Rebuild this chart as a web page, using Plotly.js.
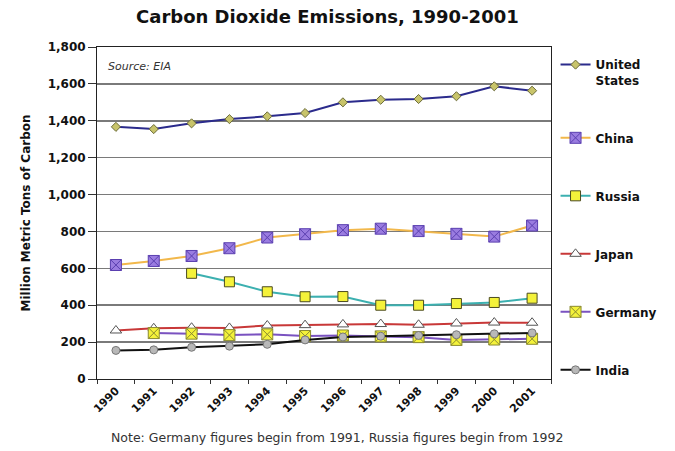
<!DOCTYPE html>
<html>
<head>
<meta charset="utf-8">
<script src="https://cdn.plot.ly/plotly-3.0.1.min.js"></script>
<style>html,body{margin:0;padding:0;background:#fff;}#chart{width:675px;height:451px;}</style>
</head>
<body>
<div id="chart"></div>
<script>
const years = ["1990","1991","1992","1993","1994","1995","1996","1997","1998","1999","2000","2001"];
const unitedStates = [1367,1355,1386,1409,1424,1442,1500,1514,1518,1533,1587,1563];
const china = [618,640,667,709,767,785,807,815,802,787,772,832];
const russia = [null,null,573,527,473,446,447,400,400,409,415,438];
const japan = [263,275,278,277,290,292,296,298,294,301,306,305];
const germany = [null,249,246,238,242,233,236,231,227,212,214,218];
const india = [155,158,172,178,188,212,228,232,236,240,245,250];

const seriesNames = ["United<br>States","China","Russia","Japan","Germany","India"];

const font = "DejaVu Sans, Verdana, sans-serif";

function tr(name, y, lineColor, symbol, size, fill, edge, group){
  return {
    x: years, y: y, name: name, type: "scatter", mode: "lines+markers",
    legendgroup: group,
    line: {color: lineColor, width: 2},
    marker: {symbol: symbol, size: size, color: fill, line: {color: edge, width: 1}},
    connectgaps: false
  };
}

const data = [
  tr(seriesNames[0], unitedStates, "#2b2b8c", "diamond", 7, "#c8c46a", "#6b6b3a", "g1"),
  tr(seriesNames[1], china, "#f2b84b", "square-x", 11, "#9a7ce0", "#5a3fb0", "g2"),
  tr(seriesNames[2], russia, "#3cb0b0", "square", 10, "#f4f23a", "#4a4a20", "g3"),
  tr(seriesNames[3], japan, "#c83838", "triangle-up", 10, "#ffffff", "#555555", "g4"),
  tr(seriesNames[4], germany, "#7a52c0", "square-x", 11, "#f4f23a", "#8a8a30", "g5"),
  tr(seriesNames[5], india, "#111111", "circle", 8, "#b8b8b8", "#777777", "g6")
];

const layout = {
  width: 675, height: 451,
  margin: {l: 97, r: 120, t: 47, b: 72},
  paper_bgcolor: "#ffffff", plot_bgcolor: "#ffffff",
  font: {family: font, color: "#111111"},
  title: {
    text: "<b>Carbon Dioxide Emissions, 1990-2001</b>",
    font: {family: font, size: 18, color: "#111"},
    x: 0.485, xanchor: "center", y: 0.963, yanchor: "middle"
  },
  xaxis: {
    type: "category",
    range: [-0.5, 11.5],
    tickangle: -45,
    tickson: "boundaries",
    ticks: "outside", ticklen: 4, tickcolor: "#333",
    showgrid: false,
    showline: true, linecolor: "#222", linewidth: 1, mirror: true,
    tickfont: {family: font, size: 11, color: "#111", weight: "bold"},
    fixedrange: true
  },
  yaxis: {
    range: [0, 1800], dtick: 200, tickformat: ",d",
    ticks: "outside", ticklen: 8, tickcolor: "#333",
    showgrid: true, gridcolor: "#7a7a7a", gridwidth: 1.5,
    showline: true, linecolor: "#222", linewidth: 1, mirror: true,
    zeroline: false,
    tickfont: {family: font, size: 12, color: "#111", weight: "bold"},
    title: {text: "<b>Million Metric Tons of Carbon</b>", font: {family: font, size: 12, color: "#111"}, standoff: 14},
    fixedrange: true
  },
  legend: {
    x: 1.01, xanchor: "left", y: 0.99, yanchor: "top",
    valign: "top",
    font: {family: font, size: 12, color: "#111", weight: "bold"},
    tracegroupgap: 39,
    bgcolor: "rgba(0,0,0,0)"
  },
  annotations: [
    {text: "<i>Source: EIA</i>", xref: "paper", yref: "paper", x: 0.02, y: 0.94, xanchor: "left", yanchor: "middle",
     showarrow: false, font: {family: font, size: 11, color: "#333"}},
    {text: "Note: Germany figures begin from 1991, Russia figures begin from 1992", xref: "paper", yref: "paper",
     x: 0.528, y: -0.175, xanchor: "center", yanchor: "middle", showarrow: false,
     font: {family: font, size: 12.5, color: "#333"}}
  ],
  showlegend: true
};

Plotly.newPlot("chart", data, layout, {displayModeBar: false, staticPlot: true});
</script>
</body>
</html>
